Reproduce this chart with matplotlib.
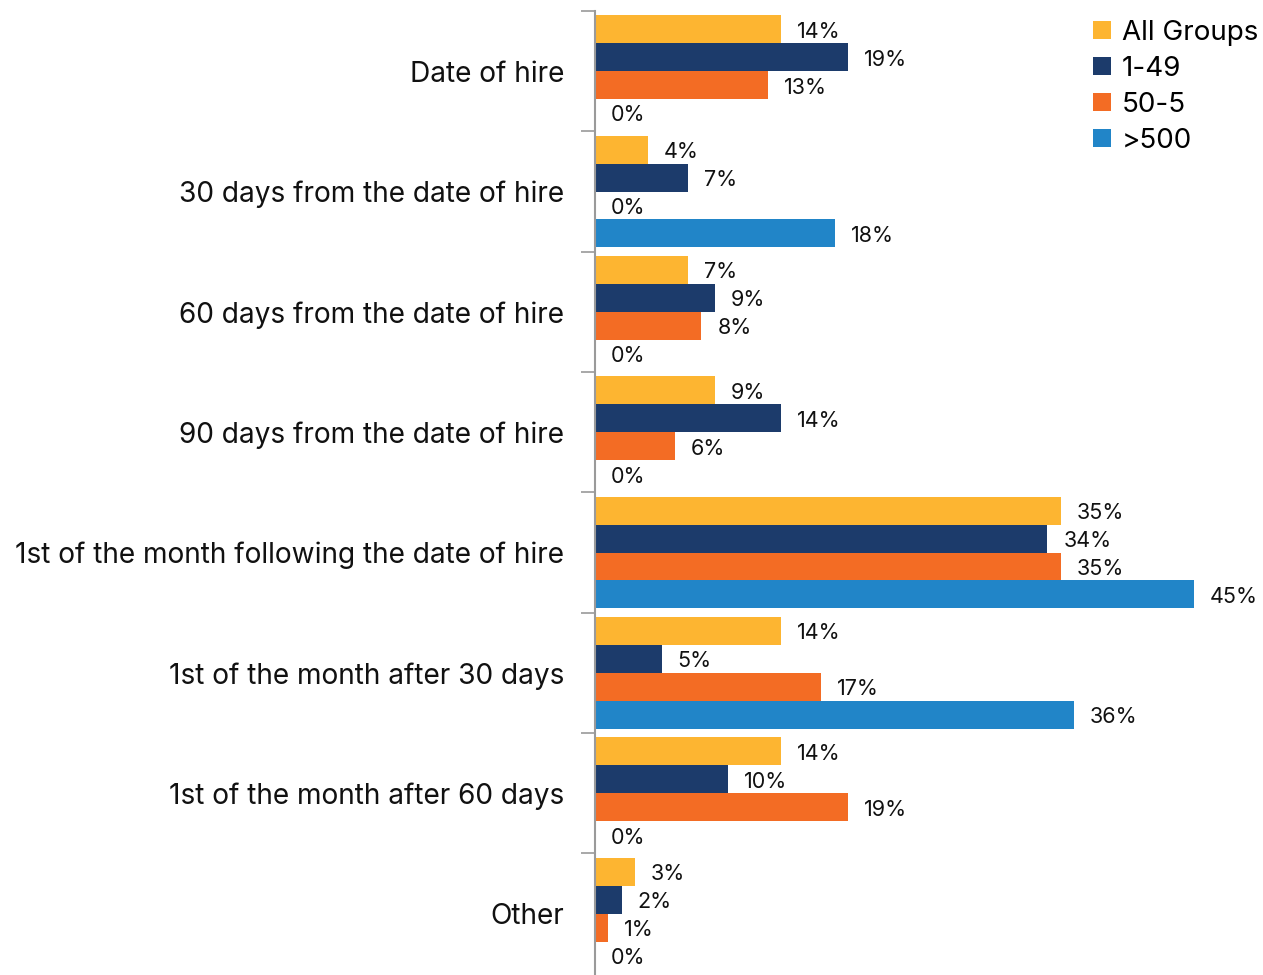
import numpy as np
import matplotlib

matplotlib.use('Agg')
import matplotlib.pyplot as plt

plt.rcParams['font.family'] = ['Inter', 'DejaVu Sans']

categories = [
    'Date of hire',
    '30 days from the date of hire',
    '60 days from the date of hire',
    '90 days from the date of hire',
    '1st of the month following the date of hire',
    '1st of the month after 30 days',
    '1st of the month after 60 days',
    'Other',
]
series_names = ['All Groups', '1-49', '50-5', '>500']
all_groups = [14, 4, 7, 9, 35, 14, 14, 3]
size_1_49 = [19, 7, 9, 14, 34, 5, 10, 2]
size_50_5 = [13, 0, 8, 6, 35, 17, 19, 1]
size_500 = [0, 18, 0, 0, 45, 36, 0, 0]

COLORS = ['#FDB531', '#1C3B6B', '#F36C24', '#2185C8']
BAR_H = 0.232

series = [all_groups, size_1_49, size_50_5, size_500]

fig = plt.figure(figsize=(12.63, 9.75), dpi=100)
ax = fig.add_axes([595 / 1263, 0.0, 1 - 595 / 1263, 1 - 11 / 975])

y = np.arange(len(categories))
for i, (vals, name, col) in enumerate(zip(series, series_names, COLORS)):
    pos = y - 1.5 * BAR_H + i * BAR_H
    ax.barh(pos, vals, height=BAR_H, color=col, label=name)
    for p, v in zip(pos, vals):
        ax.text(v + 1.2, p + 0.02, f'{v}%', va='center', ha='left', fontsize=15.5, color='#111111')

ax.set_ylim(len(categories) - 0.5 + 0.01, -0.5)
ax.set_xlim(0, 50.2)

ax.set_yticks(y)
ax.set_yticklabels(categories, fontsize=20.2, color='#111111')
ax.tick_params(axis='y', which='major', length=0, pad=22)
ax.set_yticks(np.arange(len(categories)) - 0.5, minor=True)
ax.tick_params(axis='y', which='minor', length=10, width=1.2, color='#9a9a9a')
ax.set_xticks([])

for s in ['top', 'right', 'bottom']:
    ax.spines[s].set_visible(False)
ax.spines['left'].set_color('#9a9a9a')
ax.spines['left'].set_linewidth(1.5)

ax.legend(loc='upper right', bbox_to_anchor=(1.018, 1.008), frameon=False, fontsize=20,
          handlelength=0.65, handleheight=0.65, handletextpad=0.4, labelspacing=0.36,
          borderaxespad=0.2)

fig.savefig('out.png', dpi=100)
